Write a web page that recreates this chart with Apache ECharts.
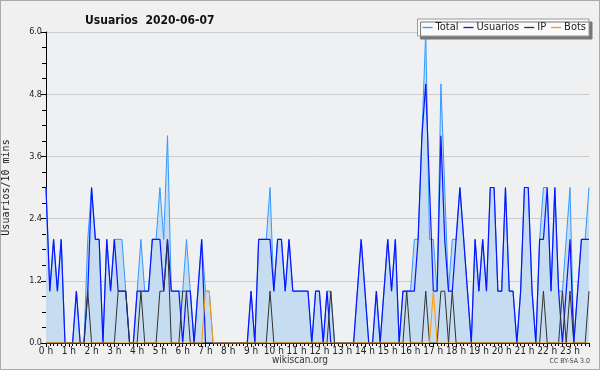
<!DOCTYPE html>
<html>
<head>
<meta charset="utf-8">
<script src="https://cdn.jsdelivr.net/npm/echarts@6/dist/echarts.min.js"></script>
<style>
html,body{margin:0;padding:0;background:#f0f0f0;}
#wrap{position:relative;width:598px;height:368px;border:1px solid #aaa;background:#f0f0f0;}
#c{width:598px;height:368px;}
</style>
</head>
<body>
<div id="wrap"><div id="c"></div></div>
<script>
// 10-minute slots, 0..143 (00:00 .. 23:50)
const hourLabels = ['0 h','1 h','2 h','3 h','4 h','5 h','6 h','7 h','8 h','9 h','10 h','11 h','12 h','13 h','14 h','15 h','16 h','17 h','18 h','19 h','20 h','21 h','22 h','23 h'];
const yTicks = [0, 1.2, 2.4, 3.6, 4.8, 6.0];

const total = [
 3,1,2,1,2,0, 0,0,1,0,0,2, 3,2,2,0,2,1, 2,2,2,1,0,0,
 1,2,1,1,2,2, 3,2,4,1,1,1, 1,2,1,0,1,2, 1,1,0,0,0,0,
 0,0,0,0,0,0, 1,0,2,2,2,3, 1,2,2,1,2,1, 1,1,1,1,0,1,
 1,0,1,1,0,0, 0,0,0,0,1,2, 1,0,0,1,0,1, 2,1,2,0,1,1,
 1,2,2,4,6,2, 2,1,5,3,1,2, 2,3,2,1,0,2, 1,2,1,3,3,1,
 1,3,1,1,0,1, 3,3,1,0,2,3, 3,1,3,1,1,2, 3,0,1,2,2,3
];
const usuarios = [
 3,1,2,1,2,0, 0,0,1,0,0,1, 3,2,2,0,2,1, 2,1,1,1,0,0,
 1,1,1,1,2,2, 2,1,2,1,1,1, 0,1,1,0,1,2, 0,0,0,0,0,0,
 0,0,0,0,0,0, 1,0,2,2,2,2, 1,2,2,1,2,1, 1,1,1,1,0,1,
 1,0,1,0,0,0, 0,0,0,0,1,2, 1,0,0,1,0,1, 2,1,2,0,1,1,
 1,1,2,4,5,3, 1,1,4,2,1,1, 2,3,2,1,0,2, 1,2,1,3,3,1,
 1,3,1,1,0,1, 3,3,1,0,2,2, 3,1,3,1,0,1, 2,0,1,2,2,2
];
const ip = [
 0,0,0,0,0,0, 0,0,0,0,0,1, 0,0,0,0,0,0, 0,1,1,1,0,0,
 0,1,0,0,0,0, 1,1,2,0,0,0, 1,1,0,0,0,0, 0,0,0,0,0,0,
 0,0,0,0,0,0, 0,0,0,0,0,1, 0,0,0,0,0,0, 0,0,0,0,0,0,
 0,0,0,1,0,0, 0,0,0,0,0,0, 0,0,0,0,0,0, 0,0,0,0,0,1,
 0,0,0,0,1,0, 0,0,1,1,0,1, 0,0,0,0,0,0, 0,0,0,0,0,0,
 0,0,0,0,0,0, 0,0,0,0,0,1, 0,0,0,0,1,0, 1,0,0,0,0,1
];
const bots = [
 0,0,0,0,0,0, 0,0,0,0,0,0, 0,0,0,0,0,0, 0,0,0,0,0,0,
 0,0,0,0,0,0, 0,0,0,0,0,0, 0,0,0,0,0,0, 1,1,0,0,0,0,
 0,0,0,0,0,0, 0,0,0,0,0,0, 0,0,0,0,0,0, 0,0,0,0,0,0,
 0,0,0,0,0,0, 0,0,0,0,0,0, 0,0,0,0,0,0, 0,0,0,0,0,0,
 0,0,0,0,0,0, 1,0,0,0,0,0, 0,0,0,0,0,0, 0,0,0,0,0,0,
 0,0,0,0,0,0, 0,0,0,0,0,0, 0,0,0,0,0,0, 0,0,0,0,0,0
];

const pts = arr => arr.map((v, i) => [i, v]);
const FONT = "'DejaVu Sans Condensed','DejaVu Sans',sans-serif";
const LINE_ICON = 'path://M0,0 L10,0 L10,1.3 L0,1.3 Z';

const chart = echarts.init(document.getElementById('c'), null, {renderer: 'canvas'});
chart.setOption({
  animation: false,
  backgroundColor: '#f0f0f0',
  title: {
    text: 'Usuarios  2020-06-07',
    left: 79, top: 9,
    textStyle: {fontFamily: FONT, fontSize: 12, fontWeight: 'bold', color: '#111'}
  },
  legend: {
    right: 10, top: 18,
    backgroundColor: '#fafafa',
    borderColor: '#999', borderWidth: 1,
    shadowColor: '#777', shadowOffsetX: 3, shadowOffsetY: 3, shadowBlur: 0,
    padding: [3, 3, 3, 5],
    itemGap: 5, itemWidth: 10, itemHeight: 2,
    icon: LINE_ICON,
    textStyle: {fontFamily: FONT, fontSize: 11, color: '#222', padding: [0, 0, 0, -2]},
    data: ['Total', 'Usuarios', 'IP', 'Bots']
  },
  grid: {left: 45, right: 10, top: 31, bottom: 26, show: true, backgroundColor: '#eef0f2', borderWidth: 0,
         containLabel: false, outerBoundsMode: 'none'},
  xAxis: {
    type: 'value', min: 0, max: 143, interval: 6,
    axisLine: {show: true, lineStyle: {color: '#000', width: 1}},
    axisTick: {show: true, length: 4, lineStyle: {color: '#000'}},
    minorTick: {show: true, splitNumber: 6, length: 3, lineStyle: {color: '#000'}},
    splitLine: {show: false},
    axisLabel: {
      fontFamily: FONT, fontSize: 10, color: '#222', margin: 3,
      formatter: v => (v % 6 === 0 && v / 6 < hourLabels.length) ? hourLabels[v / 6] : ''
    }
  },
  yAxis: {
    type: 'value', min: yTicks[0], max: yTicks[yTicks.length - 1], interval: 1.2,
    name: 'Usuarios/10 mins', nameLocation: 'middle', nameGap: 35, nameRotate: 90,
    nameTextStyle: {fontFamily: "'DejaVu Sans Mono',monospace", fontSize: 10, color: '#222'},
    axisLine: {show: true, lineStyle: {color: '#000', width: 1}},
    axisTick: {show: true, length: 5, lineStyle: {color: '#000'}},
    minorTick: {show: true, splitNumber: 4, length: 4, lineStyle: {color: '#000'}},
    splitLine: {show: true, lineStyle: {color: '#ccc', width: 1}},
    axisLabel: {fontFamily: FONT, fontSize: 9, color: '#222', margin: 4, formatter: v => v.toFixed(1)}
  },
  series: [
    {name: 'Total', type: 'line', data: pts(total), symbol: 'none', z: 2,
     lineStyle: {color: '#3399ff', width: 1}, itemStyle: {color: '#3399ff'},
     areaStyle: {color: '#c6dcf0', opacity: 1}},
    {name: 'Usuarios', type: 'line', data: pts(usuarios), symbol: 'none', z: 3,
     lineStyle: {color: '#0a14ff', width: 1.2}, itemStyle: {color: '#0a14ff'}},
    {name: 'IP', type: 'line', data: pts(ip), symbol: 'none', z: 4,
     lineStyle: {color: '#333', width: 1}, itemStyle: {color: '#333'}},
    {name: 'Bots', type: 'line', data: pts(bots), symbol: 'none', z: 4,
     lineStyle: {color: '#ff9900', width: 1}, itemStyle: {color: '#ff9900'}}
  ],
  graphic: [
    {type: 'text', left: 'center', top: 354, style: {text: 'wikiscan.org', font: "10px " + FONT, fill: '#333'}},
    {type: 'text', right: 9, top: 357, style: {text: 'CC BY-SA 3.0', font: "7px " + FONT, fill: '#444'}}
  ]
});
</script>
</body>
</html>
